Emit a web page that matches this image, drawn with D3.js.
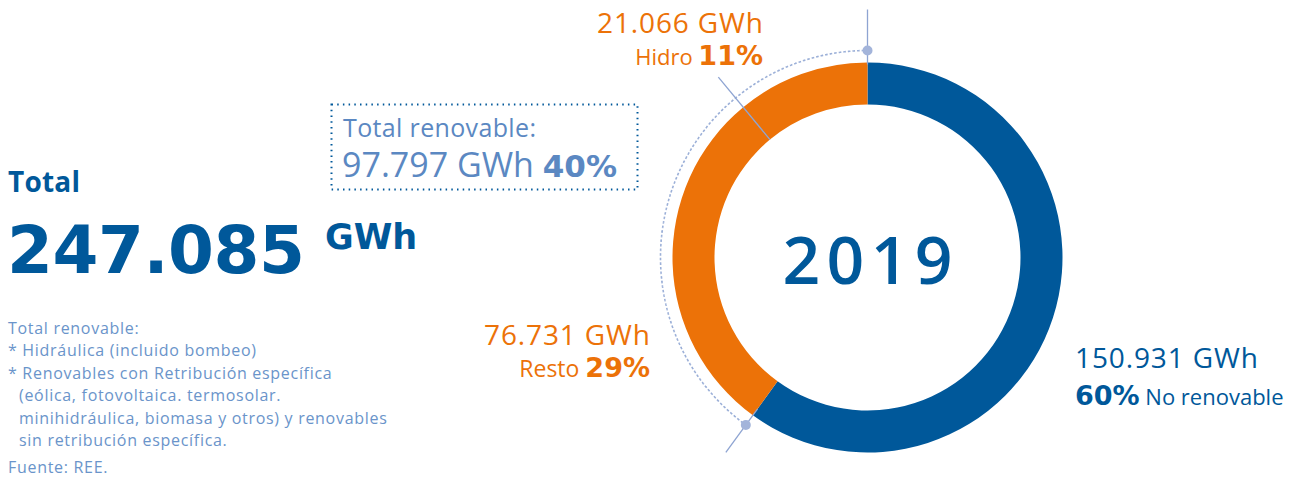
<!DOCTYPE html>
<html>
<head>
<meta charset="utf-8">
<script src="https://cdn.jsdelivr.net/npm/d3@7"></script>
<style>
  body { margin: 0; background: #fff; }
  svg { display: block; font-family: "Open Sans", sans-serif; }
</style>
</head>
<body>
<div id="chart"></div>
<script>
// datos (REE, 2019)
var categories = ["No renovable", "Resto", "Hidro"];
var gwh = ["150.931", "76.731", "21.066"];
var pct = [60, 29, 11];
var total = "247.085";
var totalRenovable = "97.797";
var totalRenovablePct = 40;
var year = "2019";
var notes = [
  "Total renovable:",
  "* Hidráulica (incluido bombeo)",
  "* Renovables con Retribución específica",
  "(eólica, fotovoltaica. termosolar.",
  "minihidráulica, biomasa y otros) y renovables",
  "sin retribución específica."
];
var source = "Fuente: REE.";

var W = 1300, H = 482;
var dark = "#00589a", orange = "#ec7208", light = "#5b88c2", note = "#6a94ca", guide = "#9cb0d8";
var heavy = "'DejaVu Sans', sans-serif";

var svg = d3.select("#chart").append("svg")
  .attr("width", W)
  .attr("height", H);

// ---- donut
var cx = 867.5, cy = 257.5, rOut = 195, rIn = 153;

var pie = d3.pie().sort(null).value(function(d) { return d; });
var arcs = pie(pct);
var arc = d3.arc().innerRadius(rIn).outerRadius(rOut);
var colors = d3.scaleOrdinal().domain(categories).range([dark, orange, orange]);

var g = svg.append("g").attr("transform", "translate(" + cx + "," + cy + ")");

g.selectAll("path.slice")
  .data(arcs)
  .enter().append("path")
  .attr("class", "slice")
  .attr("fill", function(d, i) { return colors(categories[i]); })
  .attr("d", arc);

// dotted guide arc over the renewable part
var rGuide = 207;
var renStart = arcs[1].startAngle, renEnd = arcs[2].endAngle;
g.append("path")
  .attr("d", d3.arc()({ innerRadius: rGuide, outerRadius: rGuide, startAngle: renStart, endAngle: renEnd }))
  .attr("fill", "none")
  .attr("stroke", guide)
  .attr("stroke-width", 1.6)
  .attr("stroke-dasharray", "1.6 3");

function pt(a, r) { return [Math.sin(a) * r, -Math.cos(a) * r]; }

// radial ticks: [angle, from, to]
var ticks = [
  [renEnd, rOut - 2, 248],
  [renStart, rOut - 8, 241],
  [arcs[2].startAngle, rIn, 234]
];
g.selectAll("line.tick")
  .data(ticks)
  .enter().append("line")
  .attr("class", "tick")
  .attr("x1", function(d) { return pt(d[0], d[1])[0]; })
  .attr("y1", function(d) { return pt(d[0], d[1])[1]; })
  .attr("x2", function(d) { return pt(d[0], d[2])[0]; })
  .attr("y2", function(d) { return pt(d[0], d[2])[1]; })
  .attr("stroke", "#8ea4d2")
  .attr("stroke-width", 1.3);

g.selectAll("circle.end")
  .data([renStart, renEnd])
  .enter().append("circle")
  .attr("class", "end")
  .attr("cx", function(d) { return pt(d, rGuide)[0]; })
  .attr("cy", function(d) { return pt(d, rGuide)[1]; })
  .attr("r", 5)
  .attr("fill", "#a3b4da");

g.append("text")
  .attr("text-anchor", "middle")
  .attr("y", 26)
  .attr("fill", dark)
  .attr("textLength", 170)
  .attr("lengthAdjust", "spacing")
  .style("font-size", "66px")
  .style("font-weight", 600)
  .text(year);

// ---- labels
// parts: [text, size, weight, family]
function label(x, y, anchor, color, parts, len) {
  var t = svg.append("text")
    .attr("x", x).attr("y", y)
    .attr("text-anchor", anchor)
    .attr("fill", color);
  parts.forEach(function(p) {
    t.append("tspan")
      .style("font-size", p[1] + "px")
      .style("font-weight", p[2] || 400)
      .style("font-family", p[3] || null)
      .attr("xml:space", "preserve")
      .text(p[0]);
  });
  if (len) t.attr("textLength", len).attr("lengthAdjust", "spacing");
  return t;
}

label(763, 33, "end", orange, [[gwh[2] + " GWh", 28]], 166);
label(763, 65, "end", orange, [[categories[2] + " ", 22], [pct[2] + "%", 27, 700, heavy]]);

label(650, 345, "end", orange, [[gwh[1] + " GWh", 28]], 166);
label(650, 377, "end", orange, [[categories[1] + " ", 23], [pct[1] + "%", 27, 700, heavy]]);

label(1075, 368, "start", dark, [[gwh[0] + " GWh", 28]], 183);
label(1075, 405, "start", dark, [[pct[0] + "%", 27, 700, heavy], [" " + categories[0], 22]]);

// total renovable box
svg.append("rect")
  .attr("x", 331.5).attr("y", 104.5)
  .attr("width", 306).attr("height", 85)
  .attr("fill", "none")
  .attr("stroke", dark)
  .attr("stroke-width", 2)
  .attr("stroke-dasharray", "1.5 4.2");

label(343, 137, "start", light, [["Total renovable:", 25]], 193);
label(342, 177, "start", light, [[totalRenovable + " GWh ", 34], [totalRenovablePct + "%", 31, 700, heavy]]);

// ---- total
label(8, 192, "start", dark, [["Total", 28, 700]], 72);
label(7, 273, "start", dark, [[total, 66, 700, heavy]], 298);
label(325, 249, "start", dark, [["GWh", 35, 700, heavy]]);

svg.selectAll("text.note")
  .data(notes)
  .enter().append("text")
  .attr("class", "note")
  .attr("x", function(d, i) { return i > 2 ? 19 : 8; })
  .attr("y", function(d, i) { return 334 + i * 22.4; })
  .attr("fill", note)
  .style("font-size", "16px")
  .style("letter-spacing", "0.7px")
  .text(function(d) { return d; });

svg.append("text")
  .attr("x", 8).attr("y", 473)
  .attr("fill", note)
  .style("font-size", "16px")
  .style("letter-spacing", "0.7px")
  .text(source);
</script>
</body>
</html>
